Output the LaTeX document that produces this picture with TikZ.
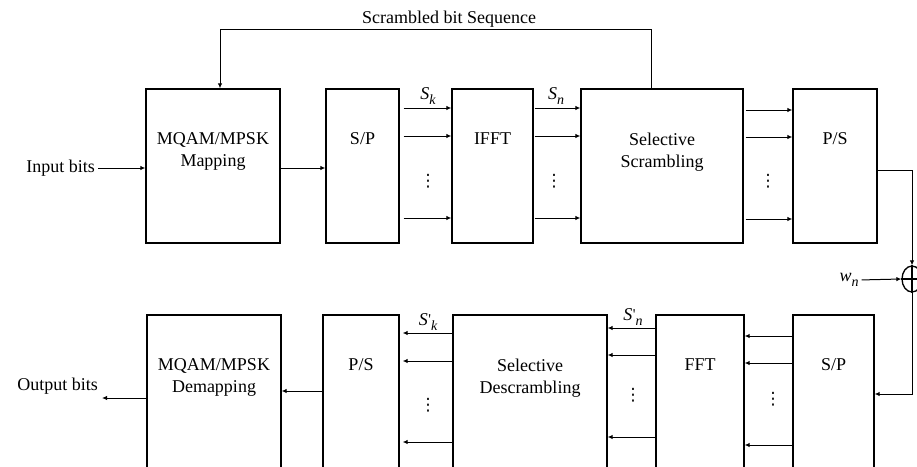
\documentclass[tikz,border=0pt]{standalone}
\usepackage{fontspec}
\setmainfont{Liberation Serif}
\newfontfamily\djsans{DejaVu Sans}
\usetikzlibrary{arrows.meta,shapes.geometric,calc}
\newcommand{\symb}[2]{{\itshape #1}\raisebox{-4.5pt}{\fontsize{14}{14}\selectfont\itshape #2}}
\newcommand{\symbp}[2]{{\itshape #1}\kern0.5pt\raisebox{1pt}{\fontsize{15}{15}\selectfont\textquotesingle}\raisebox{-4.5pt}{\fontsize{14}{14}\selectfont\itshape #2}}
\begin{document}
\begin{tikzpicture}[x=1pt,y=-1pt,
  blk/.style={draw,line width=1.3pt,minimum height=154pt,inner sep=0pt},
  txt/.style={font=\fontsize{18}{22}\selectfont,align=center,inner sep=0pt,anchor=north},
  lbl/.style={font=\fontsize{18}{22}\selectfont,inner sep=0pt},
  arr/.style={line width=1pt,-{Latex[length=5pt,width=4.5pt]}},
  dts/.style={font=\djsans\fontsize{17}{17}\selectfont,inner sep=0pt},
  ]
\useasboundingbox (0,0) rectangle (917,466);
\clip (0,0) rectangle (917,466);
% top row boxes
\node[blk,minimum width=134pt] (map) at (213,166) {};
\node[blk,minimum width=73pt] (sp1) at (362.5,166) {};
\node[blk,minimum width=81pt] (ifft) at (492.5,166) {};
\node[blk,minimum width=162pt] (scr) at (662,166) {};
\node[blk,minimum width=84pt] (ps1) at (835,166) {};
% bottom row boxes
\node[blk,minimum width=134pt] (demap) at (214,392) {};
\node[blk,minimum width=76pt] (ps2) at (361,392) {};
\node[blk,minimum width=154pt] (dscr) at (530,392) {};
\node[blk,minimum width=88pt] (fft) at (700,392) {};
\node[blk,minimum width=81pt] (sp2) at (833.5,392) {};
% box texts
\node[txt] (tmap) at ([yshift=-44pt]map.north) {MQAM/MPSK\\Mapping};
\node[txt] (tsp1) at ([yshift=-44pt]sp1.north) {S/P};
\node[txt] (tifft) at ([yshift=-44pt]ifft.north) {IFFT};
\node[txt] (tscr) at ([yshift=-44pt]scr.north) {Selective\\Scrambling};
\node[txt] (tps1) at ([yshift=-44pt]ps1.north) {P/S};
\node[txt] (tdemap) at ([yshift=-44pt]demap.north) {MQAM/MPSK\\Demapping};
\node[txt] (tps2) at ([yshift=-44pt]ps2.north) {P/S};
\node[txt] (tdscr) at ([yshift=-44pt]dscr.north) {Selective\\Descrambling};
\node[txt] (tfft) at ([yshift=-44pt]fft.north) {FFT};
\node[txt] (tsp2) at ([yshift=-44pt]sp2.north) {S/P};
% outer labels
\node[lbl,anchor=east] (inp) at (95,168) {Input bits};
\node[lbl,anchor=east] (outb) at (98,386) {Output bits};
\node[lbl,anchor=base] (fbl) at (449,23) {Scrambled bit Sequence};
\node[lbl] (sk) at (428,96) {\symb{S}{k}};
\node[lbl] (sn) at (556,96) {\symb{S}{n}};
\node[lbl] (skp) at (428,322) {\symbp{S}{k}};
\node[lbl] (snp) at (633,317) {\symbp{S}{n}};
\node[lbl] (wn) at (849,280) {\symb{w}{n}};
% dots
\node[dts] (d1) at (428,181) {⋮};
\node[dts] (d2) at (554,181) {⋮};
\node[dts] (d3) at (768,181) {⋮};
\node[dts] (d4) at (428,405) {⋮};
\node[dts] (d5) at (633,395) {⋮};
\node[dts] (d6) at (773,399) {⋮};
% adder
\node[ellipse,draw,line width=1.3pt,minimum width=20pt,minimum height=26pt,inner sep=0pt] (add) at (912,279) {};
\draw[line width=1.3pt] (add.north) -- (add.south) (add.west) -- (add.east);
% top connectors
\draw[arr,shorten <=3pt] (inp.east) -- (inp.east -| map.west);
\draw[arr] ([yshift=-2pt]map.east) -- ([yshift=-2pt]map.east -| sp1.west);
\foreach \s in {58,30,-52}{
  \draw[arr,shorten <=4pt] ([yshift=\s pt]sp1.east) -- ([yshift=\s pt]sp1.east -| ifft.west);
  \draw[arr,shorten <=1pt] ([yshift=\s pt]ifft.east) -- ([yshift=\s pt]ifft.east -| scr.west);
}
\foreach \s in {56,29,-53}{
  \draw[arr,shorten <=2pt] ([yshift=\s pt]scr.east) -- ([yshift=\s pt]scr.east -| ps1.west);
}
\draw[arr] ([xshift=-11pt]scr.north) -- ++(0,-59) -| ([xshift=7pt]map.north);
\draw[arr] ([yshift=-4pt]ps1.east) -| (add.north);
\draw[arr,shorten <=3pt] (wn.east) -- (add.west);
\draw[arr] (add.south) |- ([yshift=-2pt]sp2.east);
% bottom connectors
\foreach \s in {56,29,-53}{
  \draw[arr] ([yshift=\s pt]sp2.west) -- ([yshift=\s pt]sp2.west -| fft.east);
}
\foreach \s in {64,37,-45}{
  \draw[arr] ([yshift=\s pt]fft.west) -- ([yshift=\s pt]fft.west -| dscr.east);
}
\foreach \s in {59,31,-50}{
  \draw[arr,shorten >=3pt] ([yshift=\s pt]dscr.west) -- ([yshift=\s pt]dscr.west -| ps2.east);
}
\draw[arr] ([yshift=1pt]ps2.west) -- ([yshift=1pt]ps2.west -| demap.east);
\draw[arr,shorten >=4pt] ([yshift=-6pt]demap.west) -- ([yshift=-6pt]demap.west -| outb.east);
\end{tikzpicture}
\end{document}
